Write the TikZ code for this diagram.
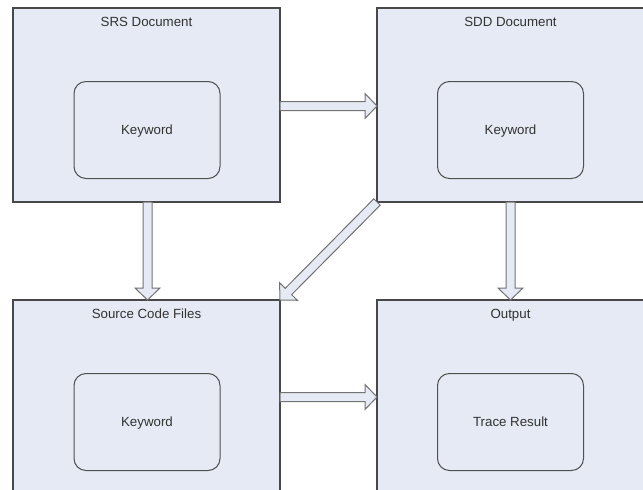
\documentclass[tikz,border=0pt]{standalone}
\usepackage{fontspec}
\setmainfont{Liberation Sans}
\usetikzlibrary{calc}
\definecolor{boxfill}{RGB}{230,234,245}
\definecolor{boxline}{RGB}{72,72,72}
\definecolor{innerline}{RGB}{80,80,80}
\definecolor{arrline}{RGB}{115,115,115}
\definecolor{txt}{RGB}{50,50,50}
\tikzset{
  outerbox/.style={draw=boxline, fill=boxfill, line width=1.3pt, rectangle,
    minimum width=267pt, minimum height=194pt, inner sep=0pt, outer sep=0pt},
  innerbox/.style={draw=innerline, fill=boxfill, line width=1pt, rectangle,
    rounded corners=12pt, minimum width=146pt, minimum height=97pt,
    inner sep=0pt, outer sep=0pt, text=txt, font=\fontsize{13.3}{16}\selectfont,
    text height=9.6pt, text depth=0pt},
  titletext/.style={text=txt, font=\fontsize{13.3}{16}\selectfont,
    inner sep=0pt, anchor=base},
  barrow/.style={draw=arrline, fill=boxfill, line width=1pt, line join=miter},
}
\newcommand\blockarrow[2]{%
  \coordinate (bah) at ($(#2)!12pt!(#1)$);
  \draw[barrow] ($(#1)!4.5pt!90:(#2)$) -- ($(bah)!4.5pt!90:(#2)$)
    -- ($(bah)!12.5pt!90:(#2)$) -- (#2) -- ($(bah)!12.5pt!-90:(#2)$)
    -- ($(bah)!4.5pt!-90:(#2)$) -- ($(#1)!4.5pt!-90:(#2)$) -- cycle;%
}
\begin{document}
\begin{tikzpicture}[x=1pt, y=-1pt]
\useasboundingbox (0,0) rectangle (643,490);
\clip (0,0) rectangle (643,490);
\fill[white] (0,0) rectangle (643,490);
% outer boxes
\node[outerbox] (srs) at (146.5,105) {};
\node[outerbox] (sdd) at (510.5,105) {};
\node[outerbox] (src) at (146.5,397) {};
\node[outerbox] (out) at (510.5,397) {};
% titles
\node[titletext] (srst) at (146.5,26) {SRS Document};
\node[titletext] (sddt) at (510.5,26) {SDD Document};
\node[titletext] (srct) at (146.5,318) {Source Code Files};
\node[titletext] (outt) at (510.5,318) {Output};
% inner boxes
\node[innerbox] (srsk) at (147,130) {Keyword};
\node[innerbox] (sddk) at (510.5,130) {Keyword};
\node[innerbox] (srck) at (147,422) {Keyword};
\node[innerbox] (outk) at (510.5,422) {Trace Result};
% connectors
\coordinate (a1s) at ([yshift=-1pt]srs.east);
\coordinate (a1e) at ([yshift=-1pt]sdd.west);
\blockarrow{a1s}{a1e}
\coordinate (a2s) at ([xshift=1pt]srs.south);
\coordinate (a2e) at ([xshift=1pt]src.north);
\blockarrow{a2s}{a2e}
\blockarrow{sdd.south}{out.north}
\blockarrow{sdd.south west}{src.north east}
\blockarrow{src.east}{out.west}
\end{tikzpicture}
\end{document}
